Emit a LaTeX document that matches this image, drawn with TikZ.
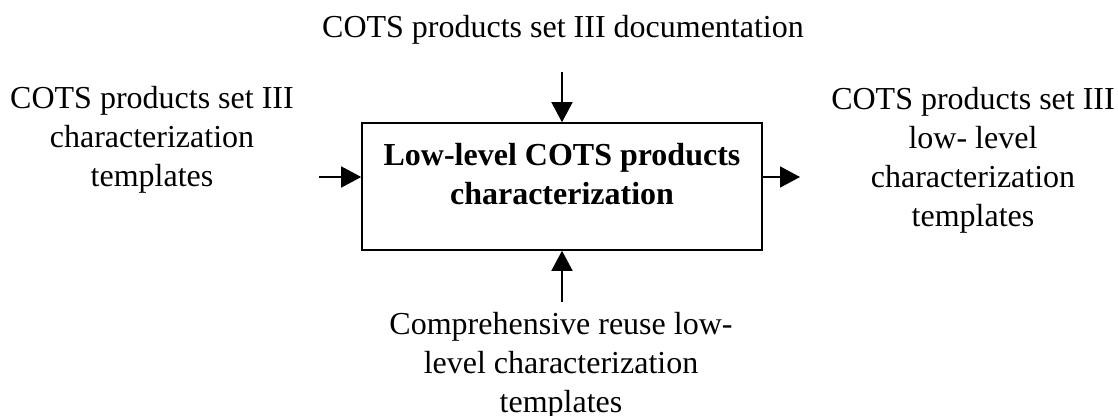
\documentclass[tikz,border=0pt]{standalone}
\usepackage{fontspec}
\setmainfont{Liberation Serif}
\usetikzlibrary{arrows.meta}
\usetikzlibrary{positioning}

\begin{document}
\begin{tikzpicture}[x=1pt, y=-1pt,
    every node/.style={font=\fontsize{32}{39}\selectfont, align=center, inner sep=0pt},
    task/.style={draw, line width=1.6pt, minimum width=400pt, minimum height=127pt},
    flow/.style={line width=1.6pt, -{Triangle[length=20pt, width=21pt]}}]
    \useasboundingbox (0, 0) rectangle (1118, 415);
    \node[task] (task) at (562, 186.5) {};
    \node[font=\fontsize{32}{38.5}\selectfont\bfseries] (title) at (562, 174) {Low-level COTS products\\characterization};
    \node (control) at (563, 30) {COTS products set III documentation};
    \node (input) at (152, 140) {COTS products set III\\characterization\\templates};
    \node (output) at (973, 160) {COTS products set III\\low- level\\characterization\\templates};
    \node (mechanism) at (561, 366) {Comprehensive reuse low-\\level characterization\\templates};
    \coordinate (ctrl) at (562, 72);
    \coordinate (in) at (319, 177);
    \coordinate (out) at (800, 177);
    \coordinate (mech) at (562, 302);
    \draw[flow] (ctrl) -- (task.north);
    \draw[flow] (in) -- (in -| task.west);
    \draw[flow] (out -| task.east) -- (out);
    \draw[flow] (mech) -- (task.south);
\end{tikzpicture}
\end{document}
